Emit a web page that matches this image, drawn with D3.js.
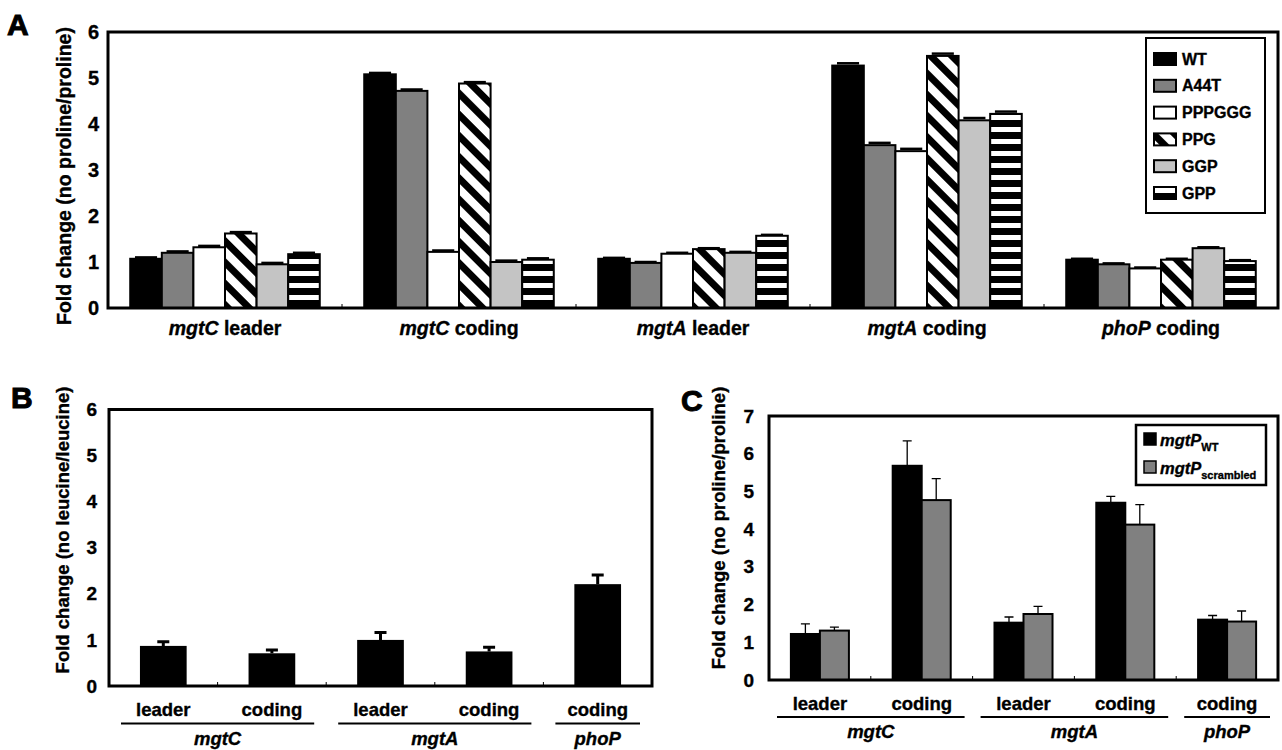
<!DOCTYPE html>
<html>
<head>
<meta charset="utf-8">
<script src="https://cdn.jsdelivr.net/npm/d3@7"></script>
<style>
	body { margin: 0; background: #fff; }
	svg { display: block; }
	text { font-family: "Liberation Sans", Arial, Helvetica, sans-serif; font-weight: bold; fill: #000; stroke: #000; stroke-width: 0.35px; }
</style>
</head>
<body>
<svg id="fig" width="1282" height="750"></svg>
<script>
// ---- data ----
const genes = ["mgtC", "mgtC", "mgtA", "mgtA", "phoP"];
const regions = ["leader", "coding", "leader", "coding", "coding"];
const groupNames = ["mgtC", "mgtA", "phoP"];
const groupFirst = [0, 2, 4];
const groupLast = [1, 3, 4];

// panel A: fold change no proline / proline, per strain
const strainsA = ["WT", "A44T", "PPPGGG", "PPG", "GGP", "GPP"];
const wtA = [1.07, 5.08, 1.07, 5.27, 1.05];
const a44tA = [1.20, 4.72, 0.98, 3.54, 0.95];
const pppgggA = [1.32, 1.22, 1.18, 3.41, 0.86];
const ppgA = [1.62, 4.88, 1.28, 5.48, 1.05];
const ggpA = [0.95, 1.00, 1.20, 4.08, 1.30];
const gppA = [1.17, 1.05, 1.57, 4.22, 1.02];
const errA = [0.03, 0.03, 0.02, 0.05, 0.02];
const yTicksA = [0, 1, 2, 3, 4, 5, 6];

// panel B: fold change no leucine / leucine
const leucineB = [0.87, 0.71, 1.00, 0.75, 2.21];
const leucineErrB = [0.09, 0.07, 0.16, 0.09, 0.20];
const yTicksB = [0, 1, 2, 3, 4, 5, 6];

// panel C: mgtP WT vs scrambled
const seriesC = ["WT", "scrambled"];
const mgtPWT = [1.22, 5.68, 1.52, 4.70, 1.60];
const mgtPWTErr = [0.27, 0.66, 0.15, 0.17, 0.11];
const mgtPScr = [1.31, 4.77, 1.75, 4.12, 1.55];
const mgtPScrErr = [0.09, 0.57, 0.20, 0.53, 0.28];
const yTicksC = [0, 1, 2, 3, 4, 5, 6, 7];

(function(){

	const svg = d3.select("#fig");
	const cats = d3.range(genes.length);

	// fill patterns for the hatched bars
	const defs = svg.append("defs");
	const diag = defs.append("pattern").attr("id", "diag")
		.attr("patternUnits", "userSpaceOnUse").attr("width", 15).attr("height", 15)
		.attr("patternTransform", "rotate(-45)");
	diag.append("rect").attr("width", 15).attr("height", 15).attr("fill", "#fff");
	diag.append("rect").attr("width", 7).attr("height", 15).attr("fill", "#000");

	const horiz = defs.append("pattern").attr("id", "horiz")
		.attr("patternUnits", "userSpaceOnUse").attr("width", 12).attr("height", 12);
	horiz.append("rect").attr("width", 12).attr("height", 12).attr("fill", "#fff");
	horiz.append("rect").attr("width", 12).attr("height", 7).attr("fill", "#000");

	const fillA = d3.scaleOrdinal().domain(strainsA)
		.range(["#000", "#808080", "#fff", "url(#diag)", "#c4c4c4", "url(#horiz)"]);
	const fillC = d3.scaleOrdinal().domain(seriesC).range(["#000", "#808080"]);

	function yAxis(g, y, ticks, left, pad, size) {
		const ax = g.append("g").attr("transform", "translate(" + left + ",0)")
			.call(d3.axisLeft(y).tickValues(ticks).tickSize(0).tickPadding(pad).tickFormat(d3.format("d")));
		ax.select(".domain").remove();
		ax.selectAll("text").style("font-size", size + "px").attr("font-family", null);
	}

	function frame(g, x0, y0, x1, y1) {
		g.append("rect").attr("x", x0).attr("y", y0)
			.attr("width", x1 - x0).attr("height", y1 - y0)
			.attr("fill", "none").attr("stroke", "#000").attr("stroke-width", 3);
	}

	function catTicks(g, x, y0) {
		g.selectAll(".ctick").data(cats.slice(1)).enter().append("line")
			.attr("x1", d => x(d)).attr("x2", d => x(d))
			.attr("y1", y0).attr("y2", y0 - 4)
			.attr("stroke", "#000").attr("stroke-width", 1);
	}

	function yTitle(g, txt, cx, cy, size) {
		g.append("text").attr("transform", "translate(" + cx + "," + cy + ") rotate(-90)")
			.attr("text-anchor", "middle").attr("dominant-baseline", "central")
			.style("font-size", size + "px").text(txt);
	}

	function letter(txt, x, y) {
		svg.append("text").attr("x", x).attr("y", y)
			.style("font-size", "30px").style("font-weight", "900").style("stroke-width", "1px").text(txt);
	}

	// two-level labels under panels B and C
	function groupLabels(g, x, base, underY, pad) {
		g.selectAll(".reg").data(cats).enter().append("text")
			.attr("x", d => x(d) + x.bandwidth() / 2).attr("y", base)
			.attr("text-anchor", "middle").style("font-size", "18.5px")
			.text(d => regions[d]);
		g.selectAll(".uline").data(groupNames).enter().append("line")
			.attr("x1", (d, i) => x(groupFirst[i]) + pad)
			.attr("x2", (d, i) => x(groupLast[i]) + x.bandwidth() - pad)
			.attr("y1", underY).attr("y2", underY)
			.attr("stroke", "#000").attr("stroke-width", 2);
		g.selectAll(".gname").data(groupNames).enter().append("text")
			.attr("x", (d, i) => (x(groupFirst[i]) + x(groupLast[i]) + x.bandwidth()) / 2)
			.attr("y", underY + 21)
			.attr("text-anchor", "middle").style("font-size", "18.5px").style("font-style", "italic")
			.text(d => d);
	}

	// ================= panel A =================
	const gA = svg.append("g");
	const xA = d3.scaleBand().domain(cats).range([108, 1278]);
	const x1A = d3.scaleBand().domain(strainsA).range([xA.bandwidth() * 0.095, xA.bandwidth() * 0.905]);
	const yA = d3.scaleLinear().domain([0, 6]).range([308, 32]);
	const seriesA = [wtA, a44tA, pppgggA, ppgA, ggpA, gppA];

	const rowsA = [];
	cats.forEach(function(c) {
		strainsA.forEach(function(s, j) {
			rowsA.push({cat: c, strain: s, v: seriesA[j][c], e: errA[c]});
		});
	});

	// error caps first, bars drawn over
	gA.selectAll(".errA").data(rowsA).enter().append("line")
		.attr("x1", d => xA(d.cat) + x1A(d.strain) + x1A.bandwidth() * 0.15)
		.attr("x2", d => xA(d.cat) + x1A(d.strain) + x1A.bandwidth() * 0.85)
		.attr("y1", d => yA(d.v + d.e)).attr("y2", d => yA(d.v + d.e))
		.attr("stroke", "#000").attr("stroke-width", 2.5);
	gA.selectAll(".barA").data(rowsA).enter().append("rect")
		.attr("x", d => xA(d.cat) + x1A(d.strain))
		.attr("y", d => yA(d.v))
		.attr("width", x1A.bandwidth())
		.attr("height", d => yA(0) - yA(d.v))
		.attr("fill", d => fillA(d.strain))
		.attr("stroke", "#000").attr("stroke-width", 2);

	frame(gA, 108, 32, 1278, 308);
	catTicks(gA, xA, 308);
	yAxis(gA, yA, yTicksA, 108, 9, 20);
	yTitle(gA, "Fold change (no proline/proline)", 64, 176, 19.5);

	const labA = gA.selectAll(".labA").data(cats).enter().append("text")
		.attr("x", d => xA(d) + xA.bandwidth() / 2).attr("y", 335)
		.attr("text-anchor", "middle").style("font-size", "19.5px");
	labA.append("tspan").style("font-style", "italic").text(d => genes[d]);
	labA.append("tspan").text(d => " " + regions[d]);

	// legend A
	const legY = d3.scalePoint().domain(strainsA).range([59, 193]);
	gA.append("rect").attr("x", 1146).attr("y", 38).attr("width", 119).attr("height", 175)
		.attr("fill", "#fff").attr("stroke", "#000").attr("stroke-width", 2);
	const legA = gA.selectAll(".legA").data(strainsA).enter().append("g")
		.attr("transform", d => "translate(1154," + legY(d) + ")");
	legA.append("rect").attr("x", 0).attr("y", -6).attr("width", 22).attr("height", 12)
		.attr("fill", d => fillA(d)).attr("stroke", "#000").attr("stroke-width", 2);
	legA.append("text").attr("x", 28).attr("y", 0).attr("dominant-baseline", "central")
		.style("font-size", "16px").text(d => d);

	letter("A", 7, 35);

	// ================= panel B =================
	const gB = svg.append("g");
	const xB = d3.scaleBand().domain(cats).range([109, 652]);
	const yB = d3.scaleLinear().domain([0, 6]).range([686, 409.5]);
	const bwB = xB.bandwidth() * 0.43;

	gB.selectAll(".errB").data(cats).enter().append("path")
		.attr("d", function(c) {
			const cx = xB(c) + xB.bandwidth() / 2;
			const top = yB(leucineB[c] + leucineErrB[c]);
			return "M" + cx + "," + yB(leucineB[c]) + "V" + top + "M" + (cx - 6) + "," + top + "H" + (cx + 6);
		})
		.attr("fill", "none").attr("stroke", "#000").attr("stroke-width", 3);
	gB.selectAll(".barB").data(cats).enter().append("rect")
		.attr("x", c => xB(c) + (xB.bandwidth() - bwB) / 2)
		.attr("y", c => yB(leucineB[c]))
		.attr("width", bwB)
		.attr("height", c => yB(0) - yB(leucineB[c]))
		.attr("fill", "#000");

	frame(gB, 109, 409.5, 652, 686);
	catTicks(gB, xB, 686);
	yAxis(gB, yB, yTicksB, 109, 12, 19);
	yTitle(gB, "Fold change (no leucine/leucine)", 62, 530, 18.5);
	groupLabels(gB, xB, 716, 723.5, 12);
	letter("B", 11, 408);

	// ================= panel C =================
	const gC = svg.append("g");
	const xC = d3.scaleBand().domain(cats).range([769, 1278]);
	const x1C = d3.scaleBand().domain(seriesC).range([xC.bandwidth() * 0.215, xC.bandwidth() * 0.785]);
	const yC = d3.scaleLinear().domain([0, 7]).range([680, 416]);
	const valsC = [mgtPWT, mgtPScr];
	const errsC = [mgtPWTErr, mgtPScrErr];

	const rowsC = [];
	cats.forEach(function(c) {
		seriesC.forEach(function(s, j) {
			rowsC.push({cat: c, s: s, v: valsC[j][c], e: errsC[j][c]});
		});
	});

	gC.selectAll(".errC").data(rowsC).enter().append("path")
		.attr("d", function(d) {
			const cx = xC(d.cat) + x1C(d.s) + x1C.bandwidth() / 2;
			const top = yC(d.v + d.e);
			return "M" + cx + "," + yC(d.v) + "V" + top + "M" + (cx - 4.5) + "," + top + "H" + (cx + 4.5);
		})
		.attr("fill", "none").attr("stroke", "#000").attr("stroke-width", 1.3);
	gC.selectAll(".barC").data(rowsC).enter().append("rect")
		.attr("x", d => xC(d.cat) + x1C(d.s))
		.attr("y", d => yC(d.v))
		.attr("width", x1C.bandwidth())
		.attr("height", d => yC(0) - yC(d.v))
		.attr("fill", d => fillC(d.s))
		.attr("stroke", "#000").attr("stroke-width", 2);

	frame(gC, 769, 416, 1278, 680);
	catTicks(gC, xC, 680);
	yAxis(gC, yC, yTicksC, 769, 15, 19);
	yTitle(gC, "Fold change (no proline/proline)", 718, 528, 18.5);
	groupLabels(gC, xC, 710, 717, 8);
	letter("C", 681, 411);

	// legend C
	const legYC = d3.scalePoint().domain(seriesC).range([439, 467]);
	gC.append("rect").attr("x", 1136).attr("y", 425).attr("width", 130).attr("height", 60)
		.attr("fill", "#fff").attr("stroke", "#000").attr("stroke-width", 2.5);
	const legC = gC.selectAll(".legC").data(seriesC).enter().append("g")
		.attr("transform", d => "translate(1144," + legYC(d) + ")");
	legC.append("rect").attr("x", 0).attr("y", -6).attr("width", 12).attr("height", 12)
		.attr("fill", d => fillC(d)).attr("stroke", "#000").attr("stroke-width", 1.5);
	const legTxt = legC.append("text").attr("x", 16).attr("y", 7).style("font-size", "16.5px");
	legTxt.append("tspan").style("font-style", "italic").text("mgtP");
	legTxt.append("tspan").attr("dy", 5).style("font-size", "11px").text(d => d);

}());
</script>
</body>
</html>
